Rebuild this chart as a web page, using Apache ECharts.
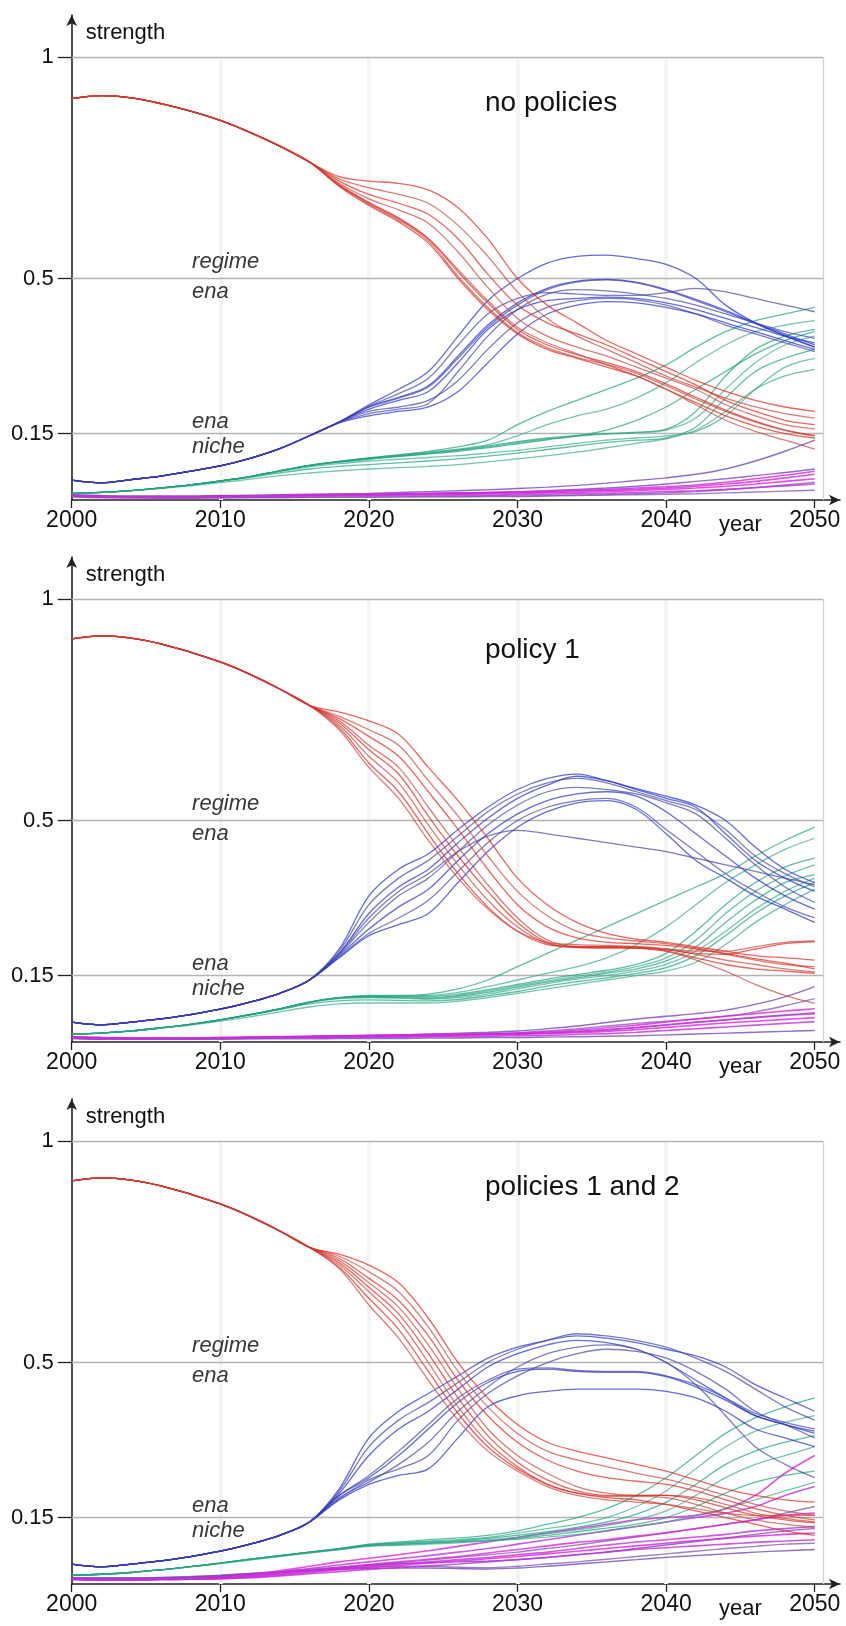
<!DOCTYPE html>
<html><head><meta charset="utf-8">
<script src="https://cdn.jsdelivr.net/npm/echarts@6.0.0/dist/echarts.min.js"></script>
<style>html,body{margin:0;padding:0;background:#fff}#c{width:846px;height:1626px}</style>
</head><body><div id="c"></div><script>
const years = [2000,2002,2004,2006,2008,2010,2012,2014,2016,2018,2020,2022,2024,2026,2028,2030,2032,2034,2036,2038,2040,2042,2044,2046,2048,2050];
const xTickValues = [2000,2010,2020,2030,2040,2050];
const yTickValues = [0.15,0.5,1];
const panelTitles = ['no policies','policy 1','policies 1 and 2'];

// ---------- panel 1: no policies ----------
const p1Red = [
 [0.906,0.913,0.908,0.895,0.878,0.857,0.83,0.799,0.763,0.73,0.72,0.715,0.70,0.66,0.59,0.50,0.44,0.40,0.36,0.33,0.30,0.27,0.245,0.225,0.21,0.20],
 [0.906,0.913,0.908,0.895,0.878,0.857,0.83,0.799,0.763,0.725,0.705,0.69,0.67,0.62,0.55,0.47,0.41,0.37,0.34,0.31,0.28,0.255,0.23,0.21,0.195,0.185],
 [0.906,0.913,0.908,0.895,0.878,0.857,0.83,0.799,0.763,0.72,0.69,0.67,0.645,0.59,0.51,0.44,0.40,0.375,0.35,0.32,0.29,0.26,0.225,0.20,0.18,0.17],
 [0.906,0.913,0.908,0.895,0.878,0.857,0.83,0.799,0.763,0.715,0.68,0.655,0.625,0.56,0.48,0.41,0.37,0.345,0.325,0.30,0.275,0.25,0.215,0.19,0.17,0.16],
 [0.906,0.913,0.908,0.895,0.878,0.857,0.83,0.799,0.763,0.712,0.672,0.637,0.59,0.515,0.445,0.385,0.35,0.328,0.31,0.29,0.262,0.232,0.203,0.178,0.158,0.146],
 [0.906,0.913,0.908,0.895,0.878,0.857,0.83,0.799,0.763,0.71,0.668,0.632,0.585,0.505,0.435,0.378,0.344,0.322,0.306,0.286,0.258,0.228,0.2,0.176,0.157,0.144],
 [0.906,0.913,0.908,0.895,0.878,0.857,0.83,0.799,0.763,0.708,0.665,0.628,0.58,0.50,0.43,0.375,0.34,0.32,0.30,0.28,0.25,0.22,0.19,0.167,0.15,0.14],
 [0.906,0.913,0.908,0.895,0.878,0.857,0.83,0.799,0.763,0.71,0.67,0.635,0.59,0.52,0.45,0.39,0.355,0.33,0.305,0.28,0.25,0.215,0.18,0.155,0.135,0.115]
];
const p1Blue = [
 [0.045,0.039,0.046,0.054,0.065,0.077,0.094,0.116,0.145,0.176,0.21,0.232,0.258,0.325,0.395,0.445,0.478,0.494,0.498,0.492,0.475,0.453,0.428,0.40,0.375,0.35],
 [0.045,0.039,0.046,0.054,0.065,0.077,0.094,0.116,0.145,0.176,0.21,0.23,0.255,0.32,0.39,0.44,0.475,0.492,0.497,0.49,0.473,0.45,0.425,0.398,0.372,0.345],
 [0.045,0.039,0.046,0.054,0.065,0.077,0.094,0.116,0.145,0.176,0.215,0.25,0.29,0.37,0.45,0.50,0.535,0.55,0.553,0.545,0.532,0.50,0.44,0.40,0.37,0.345],
 [0.045,0.039,0.046,0.054,0.065,0.077,0.094,0.116,0.145,0.176,0.212,0.24,0.275,0.35,0.42,0.455,0.468,0.465,0.462,0.462,0.468,0.478,0.47,0.455,0.44,0.425],
 [0.045,0.039,0.046,0.054,0.065,0.077,0.094,0.116,0.145,0.176,0.205,0.225,0.245,0.31,0.385,0.43,0.45,0.455,0.458,0.455,0.445,0.43,0.41,0.39,0.37,0.355],
 [0.045,0.039,0.046,0.054,0.065,0.077,0.094,0.116,0.145,0.176,0.2,0.21,0.225,0.27,0.34,0.40,0.435,0.45,0.455,0.452,0.44,0.42,0.395,0.375,0.355,0.335],
 [0.045,0.039,0.046,0.054,0.065,0.077,0.094,0.116,0.145,0.174,0.19,0.2,0.21,0.245,0.31,0.375,0.42,0.44,0.448,0.445,0.435,0.42,0.40,0.38,0.36,0.34],
 [0.045,0.039,0.046,0.054,0.065,0.077,0.094,0.116,0.145,0.175,0.195,0.205,0.218,0.29,0.37,0.43,0.465,0.475,0.472,0.465,0.455,0.44,0.42,0.40,0.38,0.365]
];
const p1Green = [
 [0.015,0.017,0.021,0.027,0.034,0.043,0.053,0.066,0.078,0.087,0.095,0.102,0.11,0.12,0.135,0.17,0.2,0.225,0.25,0.275,0.305,0.345,0.38,0.405,0.42,0.435],
 [0.015,0.017,0.021,0.027,0.034,0.043,0.053,0.066,0.078,0.087,0.095,0.102,0.108,0.115,0.125,0.145,0.17,0.19,0.205,0.23,0.265,0.31,0.35,0.38,0.395,0.405],
 [0.015,0.017,0.021,0.027,0.034,0.043,0.053,0.066,0.078,0.087,0.094,0.1,0.106,0.113,0.122,0.132,0.14,0.146,0.15,0.153,0.16,0.2,0.28,0.34,0.37,0.385],
 [0.015,0.017,0.021,0.027,0.034,0.043,0.053,0.066,0.078,0.086,0.093,0.099,0.105,0.112,0.12,0.13,0.138,0.144,0.149,0.152,0.158,0.185,0.25,0.31,0.35,0.37],
 [0.015,0.017,0.021,0.027,0.034,0.043,0.053,0.065,0.077,0.085,0.092,0.098,0.104,0.11,0.118,0.127,0.136,0.145,0.158,0.18,0.21,0.25,0.29,0.33,0.36,0.38],
 [0.015,0.017,0.021,0.027,0.034,0.043,0.053,0.064,0.075,0.082,0.088,0.092,0.096,0.1,0.106,0.112,0.12,0.128,0.135,0.14,0.145,0.155,0.19,0.25,0.3,0.32],
 [0.015,0.017,0.021,0.027,0.034,0.042,0.051,0.061,0.07,0.076,0.08,0.084,0.088,0.093,0.099,0.106,0.114,0.122,0.13,0.135,0.14,0.165,0.23,0.29,0.32,0.34],
 [0.015,0.017,0.021,0.026,0.032,0.039,0.047,0.055,0.061,0.066,0.07,0.073,0.076,0.08,0.086,0.093,0.1,0.108,0.118,0.128,0.138,0.158,0.2,0.25,0.28,0.295]
];
const p1Magenta = [
 [0.01,0.008,0.007,0.007,0.007,0.008,0.009,0.01,0.011,0.012,0.013,0.014,0.015,0.016,0.017,0.018,0.02,0.022,0.024,0.027,0.03,0.034,0.04,0.048,0.056,0.065],
 [0.01,0.008,0.007,0.007,0.007,0.008,0.009,0.01,0.011,0.012,0.012,0.013,0.014,0.015,0.016,0.017,0.018,0.02,0.022,0.024,0.027,0.031,0.036,0.042,0.05,0.058],
 [0.01,0.008,0.007,0.007,0.007,0.008,0.008,0.009,0.01,0.011,0.011,0.012,0.013,0.013,0.014,0.015,0.016,0.017,0.019,0.021,0.024,0.027,0.031,0.036,0.042,0.048],
 [0.009,0.007,0.006,0.006,0.006,0.007,0.007,0.008,0.008,0.009,0.009,0.01,0.01,0.011,0.011,0.012,0.013,0.014,0.015,0.017,0.019,0.021,0.024,0.028,0.032,0.036]
];
const p1Purple = [
 [0.012,0.01,0.009,0.009,0.009,0.01,0.011,0.012,0.013,0.014,0.015,0.017,0.019,0.021,0.023,0.026,0.029,0.033,0.038,0.044,0.05,0.058,0.07,0.088,0.11,0.135],
 [0.008,0.006,0.005,0.005,0.005,0.005,0.006,0.006,0.006,0.007,0.007,0.007,0.008,0.008,0.009,0.009,0.01,0.011,0.012,0.014,0.016,0.019,0.023,0.028,0.034,0.04],
 [0.011,0.009,0.008,0.008,0.008,0.009,0.009,0.01,0.011,0.012,0.013,0.014,0.015,0.016,0.017,0.019,0.021,0.024,0.027,0.031,0.036,0.042,0.048,0.055,0.062,0.07],
 [0.007,0.005,0.005,0.004,0.004,0.005,0.005,0.005,0.006,0.006,0.006,0.007,0.007,0.007,0.008,0.008,0.009,0.01,0.011,0.012,0.013,0.014,0.016,0.018,0.02,0.022]
];

// ---------- panel 2: policy 1 ----------
const p2Red = [
 [0.91,0.917,0.912,0.899,0.88,0.858,0.83,0.797,0.76,0.745,0.725,0.695,0.62,0.545,0.46,0.37,0.31,0.27,0.245,0.232,0.225,0.215,0.205,0.195,0.19,0.185],
 [0.91,0.917,0.912,0.899,0.88,0.858,0.83,0.797,0.76,0.735,0.705,0.67,0.59,0.51,0.42,0.34,0.285,0.25,0.235,0.228,0.222,0.212,0.198,0.185,0.175,0.17],
 [0.91,0.917,0.912,0.899,0.88,0.858,0.83,0.797,0.76,0.73,0.69,0.645,0.565,0.48,0.39,0.31,0.26,0.235,0.225,0.222,0.218,0.21,0.2,0.188,0.178,0.165],
 [0.91,0.917,0.912,0.899,0.88,0.858,0.83,0.797,0.76,0.725,0.67,0.62,0.53,0.44,0.355,0.28,0.23,0.215,0.213,0.213,0.21,0.205,0.205,0.215,0.225,0.228],
 [0.91,0.917,0.912,0.899,0.88,0.858,0.83,0.797,0.76,0.72,0.66,0.605,0.51,0.42,0.34,0.27,0.225,0.213,0.212,0.212,0.208,0.2,0.198,0.21,0.222,0.226],
 [0.91,0.917,0.912,0.899,0.88,0.858,0.83,0.797,0.76,0.715,0.645,0.585,0.49,0.4,0.32,0.26,0.222,0.215,0.215,0.215,0.21,0.198,0.185,0.175,0.165,0.158],
 [0.91,0.917,0.912,0.899,0.88,0.858,0.83,0.797,0.76,0.71,0.63,0.565,0.47,0.38,0.305,0.25,0.22,0.215,0.215,0.212,0.205,0.19,0.175,0.165,0.16,0.155],
 [0.91,0.917,0.912,0.899,0.88,0.858,0.83,0.797,0.76,0.705,0.62,0.55,0.455,0.37,0.3,0.25,0.225,0.22,0.218,0.215,0.205,0.185,0.16,0.13,0.105,0.087]
];
const p2Blue = [
 [0.045,0.039,0.045,0.052,0.062,0.074,0.09,0.11,0.14,0.21,0.33,0.39,0.425,0.48,0.53,0.57,0.595,0.605,0.59,0.57,0.55,0.53,0.47,0.41,0.37,0.34],
 [0.045,0.039,0.045,0.052,0.062,0.074,0.09,0.11,0.14,0.205,0.31,0.37,0.41,0.465,0.52,0.56,0.585,0.595,0.585,0.565,0.545,0.525,0.48,0.42,0.38,0.35],
 [0.045,0.039,0.045,0.052,0.062,0.074,0.09,0.11,0.14,0.2,0.29,0.35,0.39,0.45,0.505,0.55,0.58,0.6,0.59,0.572,0.555,0.535,0.5,0.44,0.39,0.36],
 [0.045,0.039,0.045,0.052,0.062,0.074,0.09,0.11,0.14,0.198,0.27,0.33,0.37,0.43,0.49,0.535,0.565,0.575,0.57,0.56,0.54,0.515,0.46,0.4,0.35,0.315],
 [0.045,0.039,0.045,0.052,0.062,0.074,0.09,0.11,0.14,0.195,0.255,0.305,0.345,0.41,0.47,0.515,0.545,0.56,0.565,0.555,0.52,0.47,0.42,0.37,0.33,0.3],
 [0.045,0.039,0.045,0.052,0.062,0.074,0.09,0.11,0.14,0.192,0.245,0.28,0.32,0.385,0.45,0.5,0.53,0.545,0.55,0.53,0.48,0.43,0.38,0.34,0.305,0.28],
 [0.045,0.039,0.045,0.052,0.062,0.074,0.09,0.11,0.14,0.19,0.24,0.265,0.29,0.36,0.43,0.485,0.52,0.54,0.545,0.525,0.47,0.41,0.37,0.33,0.3,0.27],
 [0.045,0.039,0.045,0.052,0.062,0.074,0.09,0.11,0.14,0.2,0.28,0.34,0.38,0.43,0.465,0.478,0.47,0.46,0.45,0.44,0.43,0.415,0.4,0.385,0.37,0.355]
];
const p2Green = [
 [0.018,0.02,0.025,0.032,0.04,0.05,0.062,0.075,0.09,0.1,0.105,0.105,0.108,0.12,0.14,0.17,0.2,0.23,0.26,0.29,0.32,0.35,0.38,0.42,0.455,0.485],
 [0.018,0.02,0.025,0.032,0.04,0.05,0.062,0.075,0.09,0.1,0.104,0.104,0.105,0.112,0.125,0.14,0.155,0.17,0.19,0.22,0.26,0.31,0.36,0.4,0.435,0.46],
 [0.018,0.02,0.025,0.032,0.04,0.05,0.062,0.075,0.09,0.1,0.103,0.103,0.103,0.108,0.118,0.13,0.142,0.152,0.162,0.175,0.2,0.25,0.31,0.36,0.395,0.415],
 [0.018,0.02,0.025,0.032,0.04,0.05,0.062,0.075,0.09,0.1,0.102,0.102,0.1,0.105,0.115,0.127,0.138,0.148,0.158,0.17,0.19,0.23,0.29,0.34,0.375,0.4],
 [0.018,0.02,0.025,0.032,0.04,0.05,0.062,0.075,0.09,0.099,0.101,0.1,0.098,0.103,0.112,0.124,0.135,0.145,0.155,0.165,0.183,0.215,0.27,0.32,0.36,0.378],
 [0.018,0.02,0.025,0.032,0.04,0.05,0.062,0.075,0.089,0.098,0.1,0.099,0.097,0.1,0.108,0.12,0.132,0.142,0.15,0.16,0.175,0.205,0.25,0.3,0.34,0.37],
 [0.018,0.02,0.025,0.032,0.04,0.05,0.061,0.073,0.086,0.093,0.095,0.094,0.093,0.096,0.104,0.114,0.126,0.136,0.145,0.155,0.168,0.195,0.24,0.29,0.33,0.36],
 [0.018,0.02,0.025,0.031,0.038,0.047,0.057,0.068,0.079,0.086,0.088,0.088,0.088,0.092,0.1,0.11,0.12,0.13,0.14,0.15,0.16,0.18,0.22,0.27,0.31,0.345]
];
const p2Magenta = [
 [0.012,0.01,0.009,0.009,0.009,0.01,0.011,0.012,0.013,0.014,0.015,0.016,0.017,0.018,0.019,0.02,0.023,0.027,0.032,0.038,0.045,0.052,0.058,0.064,0.07,0.075],
 [0.011,0.009,0.008,0.008,0.008,0.009,0.01,0.011,0.012,0.013,0.014,0.015,0.016,0.017,0.018,0.019,0.021,0.024,0.028,0.033,0.039,0.045,0.05,0.055,0.06,0.064],
 [0.01,0.008,0.008,0.008,0.008,0.009,0.009,0.01,0.011,0.012,0.013,0.013,0.014,0.015,0.016,0.017,0.019,0.021,0.024,0.028,0.033,0.038,0.043,0.047,0.051,0.055],
 [0.009,0.007,0.007,0.007,0.007,0.008,0.008,0.009,0.009,0.01,0.011,0.011,0.012,0.012,0.013,0.014,0.015,0.017,0.019,0.022,0.026,0.03,0.034,0.038,0.042,0.046]
];
const p2Purple = [
 [0.012,0.01,0.009,0.009,0.009,0.01,0.011,0.012,0.013,0.014,0.015,0.016,0.018,0.02,0.022,0.025,0.03,0.036,0.044,0.052,0.058,0.064,0.072,0.085,0.102,0.125],
 [0.011,0.009,0.008,0.008,0.008,0.009,0.01,0.011,0.012,0.013,0.014,0.015,0.016,0.017,0.019,0.021,0.025,0.03,0.036,0.042,0.047,0.052,0.058,0.068,0.082,0.098],
 [0.008,0.006,0.006,0.006,0.006,0.006,0.007,0.007,0.007,0.008,0.008,0.008,0.009,0.009,0.01,0.01,0.011,0.012,0.013,0.014,0.016,0.018,0.02,0.022,0.024,0.026],
 [0.01,0.008,0.008,0.008,0.008,0.008,0.009,0.009,0.01,0.011,0.012,0.013,0.014,0.015,0.016,0.018,0.02,0.023,0.027,0.032,0.038,0.044,0.05,0.056,0.061,0.066]
];

// ---------- panel 3: policies 1 and 2 ----------
const p3Red = [
 [0.91,0.917,0.912,0.899,0.88,0.858,0.83,0.797,0.76,0.745,0.72,0.68,0.6,0.5,0.42,0.36,0.32,0.3,0.285,0.27,0.255,0.235,0.215,0.2,0.19,0.185],
 [0.91,0.917,0.912,0.899,0.88,0.858,0.83,0.797,0.76,0.74,0.705,0.66,0.58,0.48,0.4,0.34,0.3,0.28,0.265,0.25,0.237,0.22,0.2,0.18,0.165,0.155],
 [0.91,0.917,0.912,0.899,0.88,0.858,0.83,0.797,0.76,0.735,0.69,0.64,0.56,0.46,0.38,0.32,0.28,0.255,0.24,0.232,0.225,0.21,0.19,0.17,0.155,0.145],
 [0.91,0.917,0.912,0.899,0.88,0.858,0.83,0.797,0.76,0.73,0.68,0.625,0.54,0.44,0.35,0.29,0.25,0.22,0.205,0.2,0.2,0.195,0.18,0.16,0.148,0.14],
 [0.91,0.917,0.912,0.899,0.88,0.858,0.83,0.797,0.76,0.725,0.67,0.61,0.52,0.42,0.335,0.275,0.235,0.21,0.2,0.2,0.2,0.19,0.172,0.155,0.145,0.138],
 [0.91,0.917,0.912,0.899,0.88,0.858,0.83,0.797,0.76,0.72,0.66,0.595,0.5,0.4,0.32,0.265,0.225,0.205,0.198,0.198,0.195,0.18,0.16,0.145,0.135,0.128],
 [0.91,0.917,0.912,0.899,0.88,0.858,0.83,0.797,0.76,0.715,0.645,0.575,0.48,0.385,0.31,0.26,0.225,0.205,0.195,0.19,0.18,0.165,0.15,0.135,0.12,0.11],
 [0.91,0.917,0.912,0.899,0.88,0.858,0.83,0.797,0.76,0.712,0.63,0.555,0.46,0.37,0.3,0.255,0.22,0.2,0.19,0.185,0.18,0.17,0.16,0.155,0.155,0.155]
];
const p3Blue = [
 [0.045,0.039,0.045,0.052,0.062,0.074,0.09,0.11,0.14,0.215,0.33,0.39,0.43,0.47,0.51,0.535,0.55,0.56,0.555,0.545,0.53,0.515,0.49,0.45,0.42,0.39],
 [0.045,0.039,0.045,0.052,0.062,0.074,0.09,0.11,0.14,0.21,0.31,0.37,0.41,0.455,0.5,0.53,0.55,0.565,0.56,0.55,0.535,0.51,0.48,0.44,0.4,0.37],
 [0.045,0.039,0.045,0.052,0.062,0.074,0.09,0.11,0.14,0.205,0.29,0.35,0.39,0.44,0.49,0.52,0.54,0.55,0.545,0.53,0.5,0.46,0.42,0.38,0.36,0.34],
 [0.045,0.039,0.045,0.052,0.062,0.074,0.09,0.11,0.14,0.2,0.245,0.3,0.36,0.42,0.46,0.485,0.488,0.482,0.48,0.48,0.47,0.45,0.42,0.385,0.365,0.35],
 [0.045,0.039,0.045,0.052,0.062,0.074,0.09,0.11,0.14,0.2,0.24,0.29,0.35,0.41,0.455,0.48,0.485,0.48,0.478,0.478,0.468,0.445,0.415,0.38,0.36,0.345],
 [0.045,0.039,0.045,0.052,0.062,0.074,0.09,0.11,0.14,0.195,0.23,0.27,0.32,0.39,0.445,0.49,0.52,0.535,0.54,0.53,0.5,0.45,0.38,0.31,0.27,0.24],
 [0.045,0.039,0.045,0.052,0.062,0.074,0.09,0.11,0.14,0.19,0.225,0.245,0.26,0.33,0.4,0.425,0.435,0.44,0.44,0.44,0.435,0.42,0.39,0.35,0.33,0.31],
 [0.045,0.039,0.045,0.052,0.062,0.074,0.09,0.11,0.14,0.192,0.235,0.26,0.29,0.37,0.43,0.47,0.5,0.52,0.53,0.525,0.51,0.48,0.44,0.39,0.36,0.33]
];
const p3Green = [
 [0.02,0.022,0.026,0.032,0.039,0.047,0.056,0.064,0.072,0.08,0.09,0.095,0.1,0.104,0.11,0.12,0.135,0.15,0.17,0.2,0.24,0.29,0.34,0.375,0.4,0.42],
 [0.02,0.022,0.026,0.032,0.039,0.047,0.056,0.064,0.072,0.08,0.089,0.093,0.097,0.1,0.105,0.115,0.125,0.135,0.15,0.175,0.21,0.26,0.31,0.345,0.365,0.38],
 [0.02,0.022,0.026,0.032,0.039,0.047,0.056,0.064,0.072,0.08,0.088,0.092,0.095,0.098,0.103,0.11,0.118,0.128,0.14,0.158,0.185,0.225,0.27,0.3,0.32,0.335],
 [0.02,0.022,0.026,0.032,0.039,0.047,0.056,0.064,0.072,0.079,0.087,0.09,0.093,0.096,0.1,0.106,0.114,0.122,0.132,0.145,0.165,0.2,0.24,0.27,0.29,0.31],
 [0.02,0.022,0.026,0.032,0.039,0.047,0.055,0.063,0.071,0.078,0.086,0.089,0.092,0.095,0.098,0.103,0.11,0.118,0.126,0.135,0.15,0.175,0.205,0.23,0.245,0.255],
 [0.02,0.022,0.026,0.032,0.039,0.046,0.054,0.062,0.07,0.077,0.085,0.087,0.09,0.093,0.097,0.101,0.106,0.112,0.12,0.13,0.14,0.155,0.17,0.19,0.21,0.23]
];
const p3Magenta = [
 [0.012,0.01,0.01,0.011,0.013,0.016,0.022,0.03,0.04,0.05,0.058,0.066,0.075,0.085,0.095,0.105,0.115,0.125,0.135,0.145,0.15,0.155,0.17,0.2,0.25,0.29],
 [0.012,0.01,0.01,0.011,0.012,0.015,0.02,0.027,0.035,0.043,0.05,0.057,0.064,0.072,0.08,0.09,0.1,0.11,0.12,0.13,0.14,0.15,0.16,0.175,0.2,0.22],
 [0.012,0.01,0.01,0.011,0.012,0.014,0.018,0.024,0.03,0.037,0.044,0.05,0.056,0.062,0.07,0.078,0.086,0.094,0.1,0.108,0.116,0.125,0.135,0.145,0.155,0.16],
 [0.011,0.009,0.009,0.01,0.011,0.013,0.017,0.022,0.028,0.034,0.04,0.045,0.05,0.055,0.06,0.066,0.072,0.08,0.088,0.095,0.1,0.106,0.112,0.12,0.125,0.13],
 [0.01,0.009,0.009,0.01,0.011,0.012,0.015,0.02,0.026,0.032,0.037,0.042,0.047,0.052,0.057,0.062,0.068,0.074,0.08,0.086,0.092,0.098,0.103,0.108,0.112,0.115],
 [0.01,0.009,0.009,0.01,0.011,0.012,0.014,0.018,0.023,0.028,0.033,0.037,0.041,0.045,0.05,0.055,0.06,0.066,0.072,0.078,0.082,0.086,0.09,0.094,0.097,0.1]
];
const p3Purple = [
 [0.015,0.014,0.014,0.015,0.017,0.02,0.024,0.028,0.033,0.038,0.043,0.046,0.048,0.05,0.052,0.055,0.06,0.066,0.072,0.08,0.088,0.096,0.104,0.112,0.12,0.125],
 [0.014,0.013,0.013,0.014,0.016,0.019,0.023,0.027,0.031,0.035,0.038,0.04,0.04,0.038,0.037,0.04,0.045,0.05,0.056,0.062,0.068,0.074,0.08,0.085,0.09,0.092],
 [0.013,0.012,0.012,0.013,0.015,0.018,0.022,0.026,0.03,0.033,0.035,0.036,0.036,0.035,0.034,0.036,0.04,0.045,0.05,0.055,0.06,0.064,0.068,0.072,0.075,0.078],
 [0.013,0.012,0.012,0.013,0.014,0.017,0.021,0.026,0.031,0.036,0.042,0.048,0.054,0.06,0.066,0.072,0.08,0.088,0.097,0.106,0.115,0.125,0.135,0.145,0.16,0.175]
];

const panels = [
  {red:p1Red, blue:p1Blue, green:p1Green, magenta:p1Magenta, purple:p1Purple},
  {red:p2Red, blue:p2Blue, green:p2Green, magenta:p2Magenta, purple:p2Purple},
  {red:p3Red, blue:p3Blue, green:p3Green, magenta:p3Magenta, purple:p3Purple}
];

const FONT = '"Liberation Sans", Arial, Helvetica, sans-serif';
const PANEL_OFF = 542;
const GRID_TOP = 15, GRID_H = 485;
const TITLE_TOPS = [84, 89, 84];
const FRAME_X = 2050.56;
const groupColors = {
  purple: ['#6a3db8','#7d55b0'],
  magenta: ['#e21fe0','#c030dc'],
  green: ['#10a078','#34a88a'],
  blue: ['#1f2ed8','#4444a8'],
  red: ['#e5241a','#c8463d']
};
const groupStyle = {
  purple: {width:1.4, opacity:0.75},
  magenta: {width:1.6, opacity:0.8},
  green: {width:1.3, opacity:0.68},
  blue: {width:1.3, opacity:0.7},
  red: {width:1.3, opacity:0.7}
};
const drawOrder = ['purple','magenta','green','blue','red'];

const grids = [], xAxes = [], yAxes = [], series = [], titles = [];
panels.forEach((p, i) => {
  const off = i * PANEL_OFF;
  grids.push({left:71.7, right:6, top:GRID_TOP + off, height:GRID_H, containLabel:false});
  titles.push({text:panelTitles[i], left:480, top:TITLE_TOPS[i] + off, padding:5,
    textStyle:{fontSize:28, fontWeight:'normal', color:'#111', fontFamily:FONT}});
  xAxes.push({type:'value', gridIndex:i, min:2000, max:2051.7,
    axisLine:{show:true, onZero:false, lineStyle:{color:'#222', width:1.6}, symbol:['none','arrow'], symbolSize:[8,11]},
    axisTick:{show:true, length:8, inside:false, lineStyle:{color:'#222', width:1.3}, customValues:xTickValues},
    axisLabel:{show:true, customValues:xTickValues, formatter:v => String(Math.round(v)), fontSize:23, color:'#111', fontFamily:FONT, margin:9},
    splitLine:{show:false},
    name:'year', nameLocation:'end', nameGap:-121,
    nameTextStyle:{fontSize:22, color:'#111', fontFamily:FONT, align:'left', verticalAlign:'top', padding:[14,0,0,0]}
  });
  yAxes.push({type:'value', gridIndex:i, min:0, max:1.095,
    axisLine:{show:true, lineStyle:{color:'#222', width:1.6}, symbol:['none','arrow'], symbolSize:[8,11]},
    axisTick:{show:true, length:14, lineStyle:{color:'#222', width:1.3}, customValues:yTickValues},
    axisLabel:{show:true, customValues:yTickValues, formatter:v => String(v), fontSize:22, color:'#111', fontFamily:FONT, margin:18},
    splitLine:{show:false},
    name:'strength', nameLocation:'end', nameGap:-18,
    nameTextStyle:{fontSize:22, color:'#111', fontFamily:FONT, align:'left', verticalAlign:'middle', padding:[0,0,0,14]}
  });
  // faint decade gridlines (behind data)
  series.push({type:'line', xAxisIndex:i, yAxisIndex:i, data:[], silent:true, z:1,
    markLine:{silent:true, z:1, symbol:['none','none'], animation:false, label:{show:false},
      lineStyle:{color:'#f4f4f4', width:4, type:'solid'},
      data:[2010,2020,2030,2040].map(x => [{coord:[x,0]},{coord:[x,1]}])}
  });
  // frame + reference lines
  series.push({type:'line', xAxisIndex:i, yAxisIndex:i, data:[], silent:true, z:2,
    markLine:{silent:true, z:2, symbol:['none','none'], animation:false, label:{show:false},
      lineStyle:{color:'#b4b4b4', width:1.3, type:'solid'},
      data:[
        [{coord:[2000,1]},{coord:[FRAME_X,1]}],
        [{coord:[2000,0.5]},{coord:[FRAME_X,0.5]}],
        [{coord:[2000,0.15]},{coord:[FRAME_X,0.15]}],
        [{coord:[FRAME_X,0], lineStyle:{color:'#d4d4d4', width:1.3}},{coord:[FRAME_X,1]}]
      ]}
  });
  // data lines
  drawOrder.forEach(g => {
    p[g].forEach((arr, k) => {
      series.push({type:'line', xAxisIndex:i, yAxisIndex:i, silent:true, z:3,
        data: years.map((yr, j) => [yr, arr[j]]),
        showSymbol:false, smooth:0.35, animation:false,
        lineStyle:{color:groupColors[g][k % 2], width:groupStyle[g].width, opacity:groupStyle[g].opacity}});
    });
  });
  // zone labels
  const lab = (txt, v, dy) => ({coord:[2008.1, v], symbol:'circle', symbolSize:0.1,
    itemStyle:{color:'rgba(0,0,0,0)'},
    label:{show:true, position:'inside', formatter:txt, align:'left', verticalAlign:'middle', offset:[0,dy],
      fontSize:22, fontStyle:'italic', color:'#383838', fontFamily:FONT}});
  series.push({type:'line', xAxisIndex:i, yAxisIndex:i, data:[], silent:true, z:5,
    markPoint:{silent:true, animation:false,
      data:[lab('regime',0.5,-17), lab('ena',0.5,13), lab('ena',0.15,-12), lab('niche',0.15,13)]}
  });
});

const chart = echarts.init(document.getElementById('c'), null, {renderer:'canvas'});
chart.setOption({
  animation:false,
  backgroundColor:'#ffffff',
  title:titles, grid:grids, xAxis:xAxes, yAxis:yAxes, series:series
});
</script></body></html>
